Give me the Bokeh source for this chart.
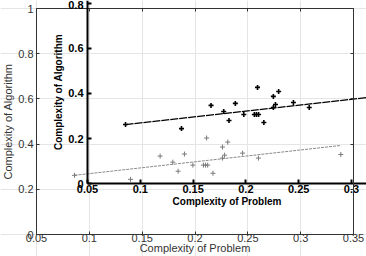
from bokeh.plotting import figure
from bokeh.models import Range1d, LinearAxis, FixedTicker
from bokeh.embed import file_html
from bokeh.resources import INLINE

# data (same sample drawn in both panels)
problem = [0.086, 0.139, 0.167, 0.179, 0.184, 0.190, 0.198, 0.208, 0.210, 0.212,
           0.211, 0.217, 0.226, 0.231, 0.228, 0.226, 0.245, 0.260, 0.338]
algorithm = [0.262, 0.244, 0.347, 0.320, 0.280, 0.356, 0.307, 0.307, 0.307, 0.307,
             0.427, 0.271, 0.387, 0.409, 0.351, 0.338, 0.360, 0.338, 0.354]
fit_x = [0.086, 0.338]
fit_y = [0.262, 0.394]

main_x_ticks = [0.05, 0.1, 0.15, 0.2, 0.25, 0.3, 0.35]
main_x_labels = ["0.05", "0.1", "0.15", "0.2", "0.25", "0.3", "0.35"]
main_y_ticks = [0, 0.2, 0.4, 0.6, 0.8, 1.0]
main_y_labels = ["0", "0.2", "0.4", "0.6", "0.8", "1"]
inset_x_ticks = [0.05, 0.1, 0.15, 0.2, 0.25, 0.3]
inset_x_labels = ["0.05", "0.1", "0.15", "0.2", "0.25", "0.3"]
inset_y_ticks = [0, 0.2, 0.4, 0.6, 0.8]
inset_y_labels = ["0", "0.2", "0.4", "0.6", "0.8"]

FONT = "Liberation Sans"

p = figure(width=366, height=256,
           x_range=Range1d(0.01593, 0.3623), y_range=Range1d(-0.0973, 1.0354),
           x_axis_location=None, y_axis_location=None,
           toolbar_location=None, output_backend="svg",
           min_border=0, outline_line_color=None)
p.extra_x_ranges = {"ix": Range1d(-0.03239, 0.3142)}
p.extra_y_ranges = {"iy": Range1d(-0.3244, 0.8133)}
p.background_fill_color = "white"
p.border_fill_color = "white"


def make_axis(loc, bounds, ticks, labels, label="", xr="default", yr="default",
              bold=False, color="#333333", width=1, tick_len=3,
              font_size="11px", title_size="11px", show_labels=True,
              label_standoff=2, title_standoff=2):
    ax = LinearAxis(fixed_location=loc, bounds=bounds,
                    ticker=FixedTicker(ticks=ticks, minor_ticks=[]),
                    x_range_name=xr, y_range_name=yr)
    ax.major_label_overrides = {t: s for t, s in zip(ticks, labels)}
    ax.axis_line_color = color
    ax.axis_line_width = width
    ax.major_tick_line_color = color
    ax.major_tick_line_width = width
    ax.major_tick_in = tick_len
    ax.major_tick_out = 0
    ax.minor_tick_in = 0
    ax.minor_tick_out = 0
    ax.major_label_text_font = FONT
    ax.major_label_text_font_size = font_size
    ax.major_label_text_font_style = "bold" if bold else "normal"
    ax.major_label_text_color = color if show_labels else None
    ax.major_label_standoff = label_standoff
    ax.axis_label = label
    ax.axis_label_text_font = FONT
    ax.axis_label_text_font_size = title_size
    ax.axis_label_text_font_style = "bold" if bold else "normal"
    ax.axis_label_text_color = color
    ax.axis_label_standoff = title_standoff
    return ax


# main (grey) panel
p.add_layout(make_axis(0.05, (0, 1), main_y_ticks, main_y_labels,
                       "Complexity of Algorithm", color="#333333",
                       font_size="11px", title_size="11px",
                       label_standoff=3, title_standoff=1), "left")
p.add_layout(make_axis(0.0, (0.05, 0.35), main_x_ticks, main_x_labels,
                       "Complexity of Problem", color="#333333",
                       font_size="11px", title_size="11px",
                       label_standoff=-1, title_standoff=-3), "below")
p.add_layout(make_axis(1.0, (0.05, 0.35), main_x_ticks, main_x_labels,
                       color="#333333", show_labels=False), "above")
p.add_layout(make_axis(0.35, (0, 1), main_y_ticks, main_y_labels,
                       color="#333333", show_labels=False), "right")

p.line(fit_x, fit_y, line_color="#8a8a8a", line_width=1, line_dash="3 1")
p.scatter(problem, algorithm, marker="cross", size=5,
          line_color="#7a7a7a", line_width=1)

# inset (black, bold) panel
p.add_layout(make_axis(0.05, (0, 1.013), inset_y_ticks, inset_y_labels,
                       "Complexity of Algorithm", xr="ix", yr="iy", bold=True,
                       color="black", width=2, tick_len=4,
                       font_size="11px", title_size="10px",
                       label_standoff=4, title_standoff=1), "left")
p.add_layout(make_axis(0.0, (0.05, 0.336), inset_x_ticks, inset_x_labels,
                       "Complexity of Problem", xr="ix", yr="iy", bold=True,
                       color="black", width=2, tick_len=4,
                       font_size="11px", title_size="10px",
                       label_standoff=1, title_standoff=0), "below")

p.line(fit_x, fit_y, x_range_name="ix", y_range_name="iy",
       line_color="black", line_width=1.3, line_dash="8 1")
p.scatter(problem, algorithm, x_range_name="ix", y_range_name="iy",
          marker="cross", size=5, line_color="black", line_width=1.6)

open("out.html", "w").write(file_html(p, INLINE))
